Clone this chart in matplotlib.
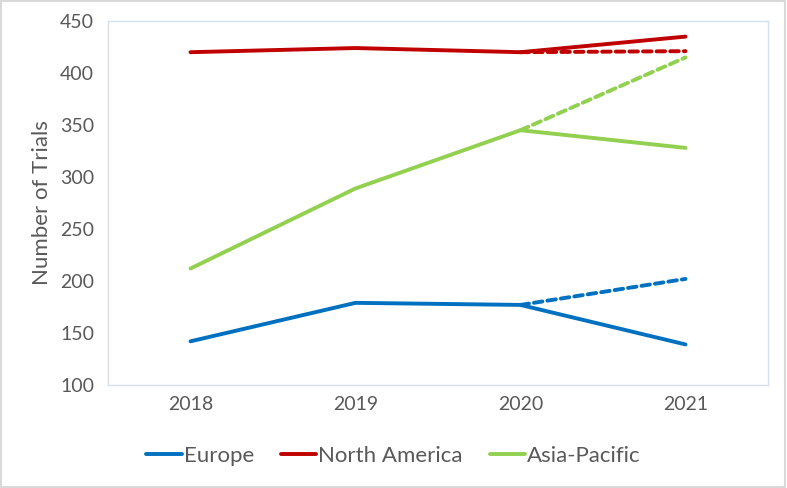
import matplotlib.pyplot as plt
from matplotlib.patches import Rectangle

plt.rcParams['font.family'] = ['Lato', 'DejaVu Sans']

years = ['2018', '2019', '2020', '2021']
europe = [142, 179, 177, 139]
north_america = [420, 424, 420, 435]
asia_pacific = [212, 289, 345, 328]

# projected values for 2021 (dashed, starting at 2020)
europe_proj = [177, 202]
north_america_proj = [420, 421]
asia_pacific_proj = [345, 415]

colors = {'Europe': '#0070C0', 'North America': '#C00000', 'Asia-Pacific': '#92D050'}
text_col = '#595959'

fig = plt.figure(figsize=(7.87, 4.88), dpi=100)
ax = fig.add_axes([108 / 787, 1 - 385 / 488, 660 / 787, 364 / 488])

x = list(range(len(years)))
lw = 2.8
for name, vals, proj in [('Europe', europe, europe_proj),
                         ('North America', north_america, north_america_proj),
                         ('Asia-Pacific', asia_pacific, asia_pacific_proj)]:
    ax.plot(x, vals, color=colors[name], lw=lw, label=name, solid_capstyle='round')
    ax.plot(x[2:], proj, color=colors[name], lw=lw, ls=(0, (2.2, 1.3)),
            dash_capstyle='round')

ax.set_xlim(-0.5, 3.5)
ax.set_ylim(100, 450)
ax.set_yticks(range(100, 451, 50))
ax.set_xticks(x)
ax.set_xticklabels(years)
ax.tick_params(length=0, labelsize=14, colors=text_col, pad=8)
ax.tick_params(axis='y', pad=10)
for s in ax.spines.values():
    s.set_color('#D6DFEE')
    s.set_linewidth(1)

ax.set_ylabel('Number of Trials', fontsize=16, color=text_col, labelpad=6)

fig.legend(*ax.get_legend_handles_labels(), loc='center', bbox_to_anchor=(0.5, 1 - 456 / 488),
           ncol=3, frameon=False, fontsize=16, labelcolor=text_col, handlelength=1.6,
           handletextpad=0.1, columnspacing=1.2)

fig.patches.append(Rectangle((0.001, 0.002), 0.997, 0.995, transform=fig.transFigure,
                             fill=False, edgecolor='#D9D9D9', lw=1.5))

fig.savefig('out.png', dpi=100)
